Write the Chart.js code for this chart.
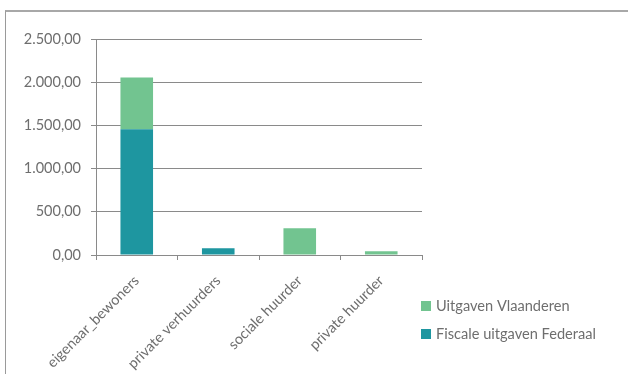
<!DOCTYPE html>
<html><head><meta charset="utf-8">
<script src="https://cdn.jsdelivr.net/npm/chart.js@4/dist/chart.umd.min.js"></script>
<style>
html,body{margin:0;padding:0;background:#fff;}
#wrap{position:relative;width:628px;height:374px;overflow:hidden;}
#frame{position:absolute;left:5px;top:10px;width:700px;height:400px;border-left:1px solid #9a9a9a;border-top:2px solid #a8a8a8;}
canvas{position:absolute;left:0;top:0;}
</style></head>
<body><div id="wrap"><div id="frame"></div><canvas id="c" width="628" height="374"></canvas></div>
<script>
const categories = ["eigenaar_bewoners","private verhuurders","sociale huurder","private huurder"];
const federaal = [1455, 78, 0, 0];
const vlaanderen = [600, 0, 310, 42];
const seriesNames = ["Fiscale uitgaven Federaal","Uitgaven Vlaanderen"];
const yTicks = [0, 500, 1000, 1500, 2000, 2500];

const TEXT = '#6e6e6e';
const FONT = 'Lato';
function fmt(v){
  const s = Math.round(v).toString().replace(/\B(?=(\d{3})+(?!\d))/g,'.');
  return s + ',00';
}
const legendPlugin = {
  id:'customLegend',
  afterDraw(chart){
    const ctx = chart.ctx;
    const items = [{t:seriesNames[1],c:'#72c490',y:306},{t:seriesNames[0],c:'#1e96a0',y:334}];
    ctx.save();
    ctx.font = '14.6px '+FONT;
    ctx.textBaseline='middle';
    items.forEach(it=>{
      ctx.fillStyle=it.c; ctx.fillRect(421,it.y-5,10,10);
      ctx.fillStyle=TEXT; ctx.fillText(it.t,436,it.y);
    });
    ctx.restore();
  }
};
new Chart(document.getElementById('c'),{
  type:'bar',
  data:{labels:categories,datasets:[
    {label:seriesNames[0],data:federaal,backgroundColor:'#1e96a0',barPercentage:0.8,categoryPercentage:0.5},
    {label:seriesNames[1],data:vlaanderen,backgroundColor:'#72c490',barPercentage:0.8,categoryPercentage:0.5}
  ]},
  options:{
    responsive:false,animation:false,
    layout:{padding:{left:0,right:206,top:39,bottom:0}},
    plugins:{legend:{display:false},tooltip:{enabled:false}},
    scales:{
      x:{stacked:true,offset:true,
        grid:{display:true,drawOnChartArea:false,offset:true,tickLength:5,color:'#8a8a8a'},
        border:{color:'#8a8a8a',width:1},
        ticks:{color:TEXT,font:{family:FONT,size:14.5},maxRotation:45,minRotation:45,padding:12,labelOffset:0},
        afterFit(s){s.height=119;}
      },
      y:{stacked:true,min:0,max:2500,
        afterBuildTicks(s){s.ticks=yTicks.map(v=>({value:v}));},
        grid:{color:'#8a8a8a',tickLength:5,drawTicks:true},
        border:{color:'#8a8a8a',width:1},
        ticks:{color:TEXT,font:{family:FONT,size:14.5},padding:10,callback:v=>fmt(v)},
        afterFit(s){s.width=96;}
      }
    }
  },
  plugins:[legendPlugin]
});
</script></body></html>
